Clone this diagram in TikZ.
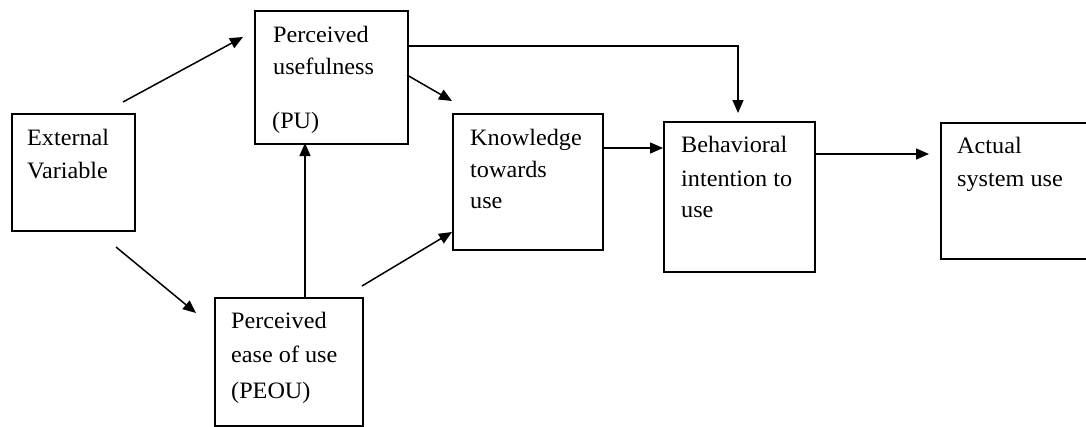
\documentclass[tikz,border=0pt]{standalone}
\usepackage{fontspec}
\setmainfont{Liberation Serif}[FakeStretch=1.03]
\usetikzlibrary{arrows.meta,calc}
\tikzset{
  box/.style={draw=black, line width=1.6pt, anchor=north west, inner sep=0pt},
  lbl/.style={anchor=base west, inner sep=0pt, font=\fontsize{23.5}{28}\selectfont, text=black},
  conn/.style={line width=1.5pt, -{Triangle[length=13pt,width=11pt]}}
}
\begin{document}
\begin{tikzpicture}[x=1pt,y=-1pt]
\useasboundingbox (0,0) rectangle (1086,426);
% boxes
\node[box, minimum width=123pt, minimum height=117pt] (ext) at (11,113) {};
\node[box, minimum width=153pt, minimum height=133pt] (pu) at (254,10) {};
\node[box, minimum width=148pt, minimum height=128pt] (peou) at (214,297) {};
\node[box, minimum width=150pt, minimum height=136pt] (kn) at (452,113) {};
\node[box, minimum width=151pt, minimum height=150pt] (bi) at (663,121) {};
\node[box, minimum width=160pt, minimum height=136pt] (asu) at (940,122) {};
% texts
\node[lbl] (ext1) at (27,145) {External};
\node[lbl] (ext2) at (27,178) {Variable};
\node[lbl] (pu1) at (273,42.5) {Perceived};
\node[lbl] (pu2) at (273,74) {usefulness};
\node[lbl] (pu3) at (272,128) {(PU)};
\node[lbl] (peou1) at (231,328) {Perceived};
\node[lbl] (peou2) at (231,362) {ease of use};
\node[lbl] (peou3) at (231,398) {(PEOU)};
\node[lbl] (kn1) at (470,145) {Knowledge};
\node[lbl] (kn2) at (470,177) {towards};
\node[lbl] (kn3) at (470,208) {use};
\node[lbl] (bi1) at (681,152) {Behavioral};
\node[lbl] (bi2) at (681,186) {intention to};
\node[lbl] (bi3) at (681,217) {use};
\node[lbl] (asu1) at (957,153) {Actual};
\node[lbl] (asu2) at (957,186) {system use};
% connector end points
\coordinate (a1s) at (123,102); \coordinate (a1e) at (243,37);
\coordinate (a2s) at (116,247); \coordinate (a2e) at (196,313);
\coordinate (a3s) at (407,75);  \coordinate (a3e) at (452,101);
\coordinate (a4s) at (362,286); \coordinate (a4e) at (452,232);
\coordinate (a5s) at (305,297); \coordinate (a5e) at (305,143);
\coordinate (a6s) at (407,46);  \coordinate (a6e) at (738,113);
\coordinate (a7s) at (602,148); \coordinate (a7e) at (663,148);
\coordinate (a8s) at (814,154); \coordinate (a8e) at (929,154);
% connectors
\draw[conn] (a1s) -- (a1e);
\draw[conn] (a2s) -- (a2e);
\draw[conn] (a3s) -- (a3e);
\draw[conn] (a4s) -- (a4e);
\draw[conn] (a5s) -- (a5e);
\draw[conn] (a6s) -| (a6e);
\draw[conn] (a7s) -- (a7e);
\draw[conn] (a8s) -- (a8e);
\end{tikzpicture}
\end{document}
